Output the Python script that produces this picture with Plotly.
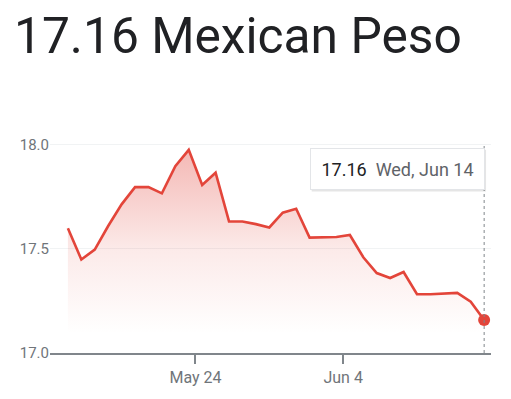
import plotly.graph_objects as go

# ---- data ----
dates = [
    "2023-05-14 12:00", "2023-05-15 12:00", "2023-05-16 12:00", "2023-05-17 12:00",
    "2023-05-18 12:00", "2023-05-19 12:00", "2023-05-20 12:00", "2023-05-21 12:00",
    "2023-05-22 12:00", "2023-05-23 12:00", "2023-05-24 12:00", "2023-05-25 12:00",
    "2023-05-26 12:00", "2023-05-27 12:00", "2023-05-28 12:00", "2023-05-29 12:00",
    "2023-05-30 12:00", "2023-05-31 12:00", "2023-06-01 12:00", "2023-06-02 12:00",
    "2023-06-03 12:00", "2023-06-04 12:00", "2023-06-05 12:00", "2023-06-06 12:00",
    "2023-06-07 12:00", "2023-06-08 12:00", "2023-06-09 12:00", "2023-06-10 12:00",
    "2023-06-11 12:00", "2023-06-12 12:00", "2023-06-13 12:00", "2023-06-14 12:00",
]
rates = [
    17.599, 17.449, 17.497, 17.610, 17.714, 17.797, 17.797, 17.767,
    17.897, 17.976, 17.807, 17.866, 17.632, 17.632, 17.619, 17.603,
    17.674, 17.693, 17.554, 17.555, 17.557, 17.567, 17.460, 17.384,
    17.360, 17.389, 17.282, 17.282, 17.287, 17.289, 17.246, 17.159,
]
fill_base = 17.1
x_tick_vals = ["2023-05-24", "2023-06-04"]
x_tick_text = ["May 24", "Jun 4"]
y_tick_vals = [17.0, 17.5, 18.0]
y_tick_text = ["17.0", "17.5", "18.0"]
title_text = "17.16 Mexican Peso"
tip_value = "17.16"
tip_date = "Wed, Jun 14"

RED = "#e3453a"
GREY = "#70757a"

# page body adds an offset; the figure is sized to compensate
OX, OY = 9, 8
W, H = 511 - OX, 399 - OY
L, R, T, B = 47 - OX, 19, 124 - OY, 44
PW, PH = W - L - R, H - T - B


def px_x(p):
    return (p - OX - L) / PW


def px_y(p):
    return (H - B - (p - OY)) / PH


fig = go.Figure()
fig.add_trace(go.Scatter(
    x=dates, y=[fill_base] * len(dates), mode="lines",
    line=dict(width=0, color="rgba(0,0,0,0)"), hoverinfo="skip", showlegend=False,
))
fig.add_trace(go.Scatter(
    x=dates, y=rates, mode="lines",
    line=dict(color=RED, width=2.6),
    fill="tonexty",
    fillgradient=dict(
        type="vertical", start=fill_base, stop=max(rates),
        colorscale=[[0, "rgba(226,70,60,0)"], [0.45, "rgba(226,70,60,0.11)"],
                    [1, "rgba(226,70,60,0.38)"]],
    ),
    showlegend=False,
))
fig.add_trace(go.Scatter(
    x=[dates[-1]], y=[rates[-1]], mode="markers",
    marker=dict(color=RED, size=12), showlegend=False,
))

# dashed cursor line
fig.add_shape(type="line", xref="x", yref="y", x0=dates[-1], x1=dates[-1],
              y0=17.0, y1=18.0, line=dict(color="#80868b", width=1, dash="3px,3px"))

# tooltip shadow + box
fig.add_shape(type="rect", xref="paper", yref="paper",
              x0=px_x(311), x1=px_x(487),
              y0=px_y(192), y1=px_y(150),
              line=dict(width=0), fillcolor="rgba(0,0,0,0.10)", layer="above")
fig.add_annotation(
    xref="paper", yref="paper", x=px_x(486), y=px_y(148),
    xanchor="right", yanchor="top", showarrow=False,
    text=f"<span style='color:#202124'>{tip_value}</span>&nbsp;&nbsp;"
         f"<span style='color:#5f6368'>{tip_date}</span>",
    font=dict(family="Roboto", size=18),
    bgcolor="white", bordercolor="#e3e5e8", borderwidth=1, borderpad=0,
    width=173, height=40, align="center",
)

fig.update_layout(
    width=W, height=H,
    margin=dict(l=L, r=R, t=T, b=B),
    paper_bgcolor="white", plot_bgcolor="white",
    title=dict(text=title_text, xref="container", yref="container",
               x=(15 - OX) / W, xanchor="left", y=1 - (36 - OY) / H, yanchor="middle",
               font=dict(family="Roboto", size=49.7, color="#202124")),
    font=dict(family="Roboto", color=GREY),
    xaxis=dict(
        type="date", range=["2023-05-13 04:00", "2023-06-15 00:15"],
        tickvals=x_tick_vals, ticktext=x_tick_text,
        ticks="outside", ticklen=9, tickwidth=1.5, tickcolor="#80868b",
        showline=True, linecolor="#80868b", linewidth=1.5,
        showgrid=False, zeroline=False,
        tickfont=dict(size=16, color=GREY),
    ),
    yaxis=dict(
        range=[17.0, 18.1], tickvals=y_tick_vals, ticktext=y_tick_text,
        showgrid=True, gridcolor="#f1f3f4", gridwidth=1, zeroline=False,
        ticks="", showline=False,
        tickfont=dict(size=15, color=GREY),
    ),
    hovermode=False,
)

fig.write_html("out.html")
